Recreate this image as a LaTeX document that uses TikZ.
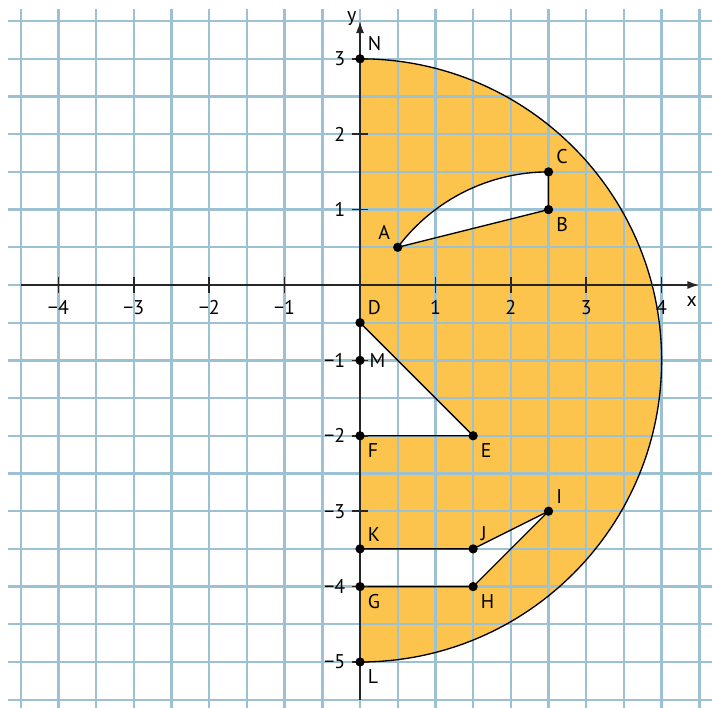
\documentclass[tikz,border=0pt]{standalone}
\usepackage{fontspec}
\setmainfont{PT Sans}
\usepackage{xcolor}
\usetikzlibrary{arrows.meta}
\definecolor{gridblue}{RGB}{155,193,210}
\definecolor{areayellow}{RGB}{252,196,76}

\begin{document}
\begin{tikzpicture}[font=\fontsize{7.5}{9}\selectfont,
                    gridline/.style={gridblue, line width=0.9pt},
                    outline/.style={black, line width=0.5pt},
                    axis/.style={black!85, line width=0.6pt},
                    dot/.style={circle, fill=black, inner sep=0pt, minimum size=3.5pt},
                    lbl/.style={inner sep=1pt, label distance=0.5pt},
                    ticklbl/.style={inner sep=0pt}]
        \useasboundingbox (-4.775,-5.61) rectangle (4.668,3.78);
        % Points
        \coordinate (N) at (0,3);
        \coordinate (A) at (0.5,0.5);
        \coordinate (B) at (2.5,1);
        \coordinate (C) at (2.5,1.5);
        \coordinate (D) at (0,-0.5);
        \coordinate (M) at (0,-1);
        \coordinate (E) at (1.5,-2);
        \coordinate (F) at (0,-2);
        \coordinate (I) at (2.5,-3);
        \coordinate (J) at (1.5,-3.5);
        \coordinate (K) at (0,-3.5);
        \coordinate (H) at (1.5,-4);
        \coordinate (G) at (0,-4);
        \coordinate (L) at (0,-5);
        % Shaded region
        \fill[areayellow, even odd rule] (N) arc[start angle=90, end angle=-90, radius=4] -- cycle
            (A) -- (B) -- (C) arc[start angle=90, end angle=143.13, radius=2.5] -- cycle
            (D) -- (E) -- (F) -- cycle
            (K) -- (J) -- (I) -- (H) -- (G) -- cycle;
        % Grid
        \foreach \x in {-4.5,-4,...,4.6}
            \draw[gridline] (\x,-5.62) -- (\x,3.66);
        \foreach \y in {-5.5,-5,...,3.6}
            \draw[gridline] (-4.67,\y) -- (4.67,\y);
        % Outlines
        \draw[outline] (N) arc[start angle=90, end angle=-90, radius=4];
        \draw[outline] (A) -- (B) -- (C) arc[start angle=90, end angle=143.13, radius=2.5];
        \draw[outline] (D) -- (E) -- (F);
        \draw[outline] (K) -- (J) -- (I) -- (H) -- (G);
        % Axes
        \coordinate (xstart) at (-4.5,0);
        \coordinate (xend) at (4.5,0);
        \coordinate (ystart) at (0,-5.5);
        \coordinate (yend) at (0,3.5);
        \draw[axis, -{Latex[length=4.5pt,width=3pt]}] (xstart) -- (xend);
        \draw[axis, -{Latex[length=4.5pt,width=3pt]}] (ystart) -- (yend);
        \node[ticklbl] (xname) at (4.4,-0.22) {x};
        \node[ticklbl] (yname) at (-0.11,3.54) {y};
        % Ticks
        \foreach \i/\t in {-4/−4,-3/−3,-2/−2,-1/−1,1/1,2/2,3/3,4/4} {
            \draw[axis] (\i,-0.1) -- (\i,0.1);
            \node[ticklbl] (xtick\t) at (\i,-0.3) {\t};
        }
        \foreach \i/\t in {-5/−5,-4/−4,-3/−3,-2/−2,-1/−1,1/1,2/2,3/3} {
            \draw[axis] (-0.1,\i) -- (0.1,\i);
            \node[ticklbl, anchor=east] (ytick\t) at (-0.19,\i) {\t};
        }
        % Dots
        \foreach \p/\pos in {N/45, A/135, B/-45, C/45, D/45, M/0, E/-45, F/-45,
                             I/45, J/45, K/45, H/-45, G/-45, L/-45}
            \node[dot, label={[lbl]\pos:\p}] (dot\p) at (\p) {};
    \end{tikzpicture}
\end{document}
